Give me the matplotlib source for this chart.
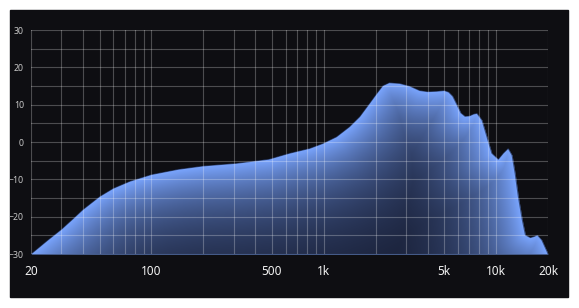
import numpy as np
import matplotlib
matplotlib.use("Agg")
import matplotlib.pyplot as plt
from matplotlib.patches import Rectangle

# frequency response (Hz, dB)
freq = [20, 25, 30, 35, 40, 50, 60, 75, 100, 143, 200, 310, 480, 632, 828,
        985, 1185, 1410, 1616, 1846, 2030, 2200, 2400, 2760, 3150, 3600,
        4000, 4500, 5000, 5300, 5600, 5900, 6250, 6600, 7000, 7400, 7740,
        8280, 8850, 9450, 10300, 11000, 11750, 12380, 12900, 13460, 14200,
        14800, 15800, 16600, 17350, 18400, 19750, 20000]
db = [-30, -26.3, -23.4, -20.6, -18.1, -14.6, -12.4, -10.5, -8.7, -7.3,
      -6.4, -5.7, -4.6, -3.0, -1.7, -0.4, 1.4, 4.1, 6.8, 10.4, 13.0, 15.1,
      15.9, 15.7, 15.0, 13.8, 13.5, 13.6, 13.8, 13.4, 12.3, 10.2, 7.8, 6.9,
      7.0, 7.5, 7.7, 5.9, 1.4, -3.0, -4.6, -3.0, -1.7, -3.5, -8.4, -14.6,
      -20.9, -24.9, -25.6, -25.3, -24.9, -26.2, -29.3, -30]

xtick_vals = [20, 100, 500, 1000, 5000, 10000, 20000]
xtick_text = ['20', '100', '500', '1k', '5k', '10k', '20k']
ytick_vals = [30, 20, 10, 0, -10, -20, -30]

plt.rcParams['font.family'] = ['Noto Sans', 'DejaVu Sans']

fig = plt.figure(figsize=(5.79, 3.08), dpi=100)
fig.patch.set_facecolor('white')
fig.patches.append(Rectangle((10/579, 1-297/308), 558/579, 287/308,
                             transform=fig.transFigure, color='#0e0e12', zorder=-5))

ax = fig.add_axes([31/579, 1-254/308, 517/579, 224/308])
ax.set_facecolor('#0e0e12')
ax.set_xscale('log')
ax.set_xlim(20, 20000)
ax.set_ylim(-30, 30)
for s in ax.spines.values():
    s.set_visible(False)

# gradient fill, shaded by distance from the curve
W, H = 517, 224
lf = np.log10(np.array(freq, float))
u = (lf - np.log10(20)) / 3 * W
v = (np.array(db, float) + 30) / 60 * H
uu, vv = np.meshgrid(np.arange(W) + 0.5, np.arange(H) + 0.5)
dist = np.full(uu.shape, 1e9)
for i in range(len(u) - 1):
    ax_, ay_, bx, by = u[i], v[i], u[i+1], v[i+1]
    dx, dy = bx - ax_, by - ay_
    t = ((uu - ax_) * dx + (vv - ay_) * dy) / (dx*dx + dy*dy)
    t = np.clip(t, 0, 1)
    d = np.hypot(uu - (ax_ + t*dx), vv - (ay_ + t*dy))
    dist = np.minimum(dist, d)

light = np.array([0.48, 0.65, 1.0])
dark = np.array([0.08, 0.10, 0.18])
k = np.exp(-dist / 52)[..., None]
img = dark + (light - dark) * k

poly = ax.fill_between(freq, db, -30, color='#7aa6ff', lw=0, zorder=1)
im = ax.imshow(img, origin='lower', extent=(0, 1, 0, 1), transform=ax.transAxes,
               aspect='auto', interpolation='bilinear', zorder=1.5)
im.set_clip_path(poly.get_paths()[0], ax.transData)
ax.plot(freq, db, color='#0a1024', lw=0.8, alpha=0.6, zorder=1.6)

# grid
grid_f = [m * 10**e for e in range(1, 5) for m in range(1, 10)]
grid_f = [g for g in grid_f if 20 <= g <= 20000]
for g in grid_f:
    ax.axvline(g, color='white', alpha=0.26, lw=0.8, zorder=3)
for yv in range(-30, 31, 5):
    ax.axhline(yv, color='white', alpha=0.26, lw=0.8, zorder=3)

ax.set_xticks(xtick_vals)
ax.set_xticklabels(xtick_text)
ax.xaxis.set_minor_locator(plt.NullLocator())
ax.set_yticks(ytick_vals)
ax.tick_params(axis='x', length=0, pad=8, labelsize=8.5, colors='#f2f2f2')
ax.tick_params(axis='y', length=0, pad=5, labelsize=6.3, colors='#c8c8c8')

fig.savefig('out.png', dpi=100, facecolor='white')
